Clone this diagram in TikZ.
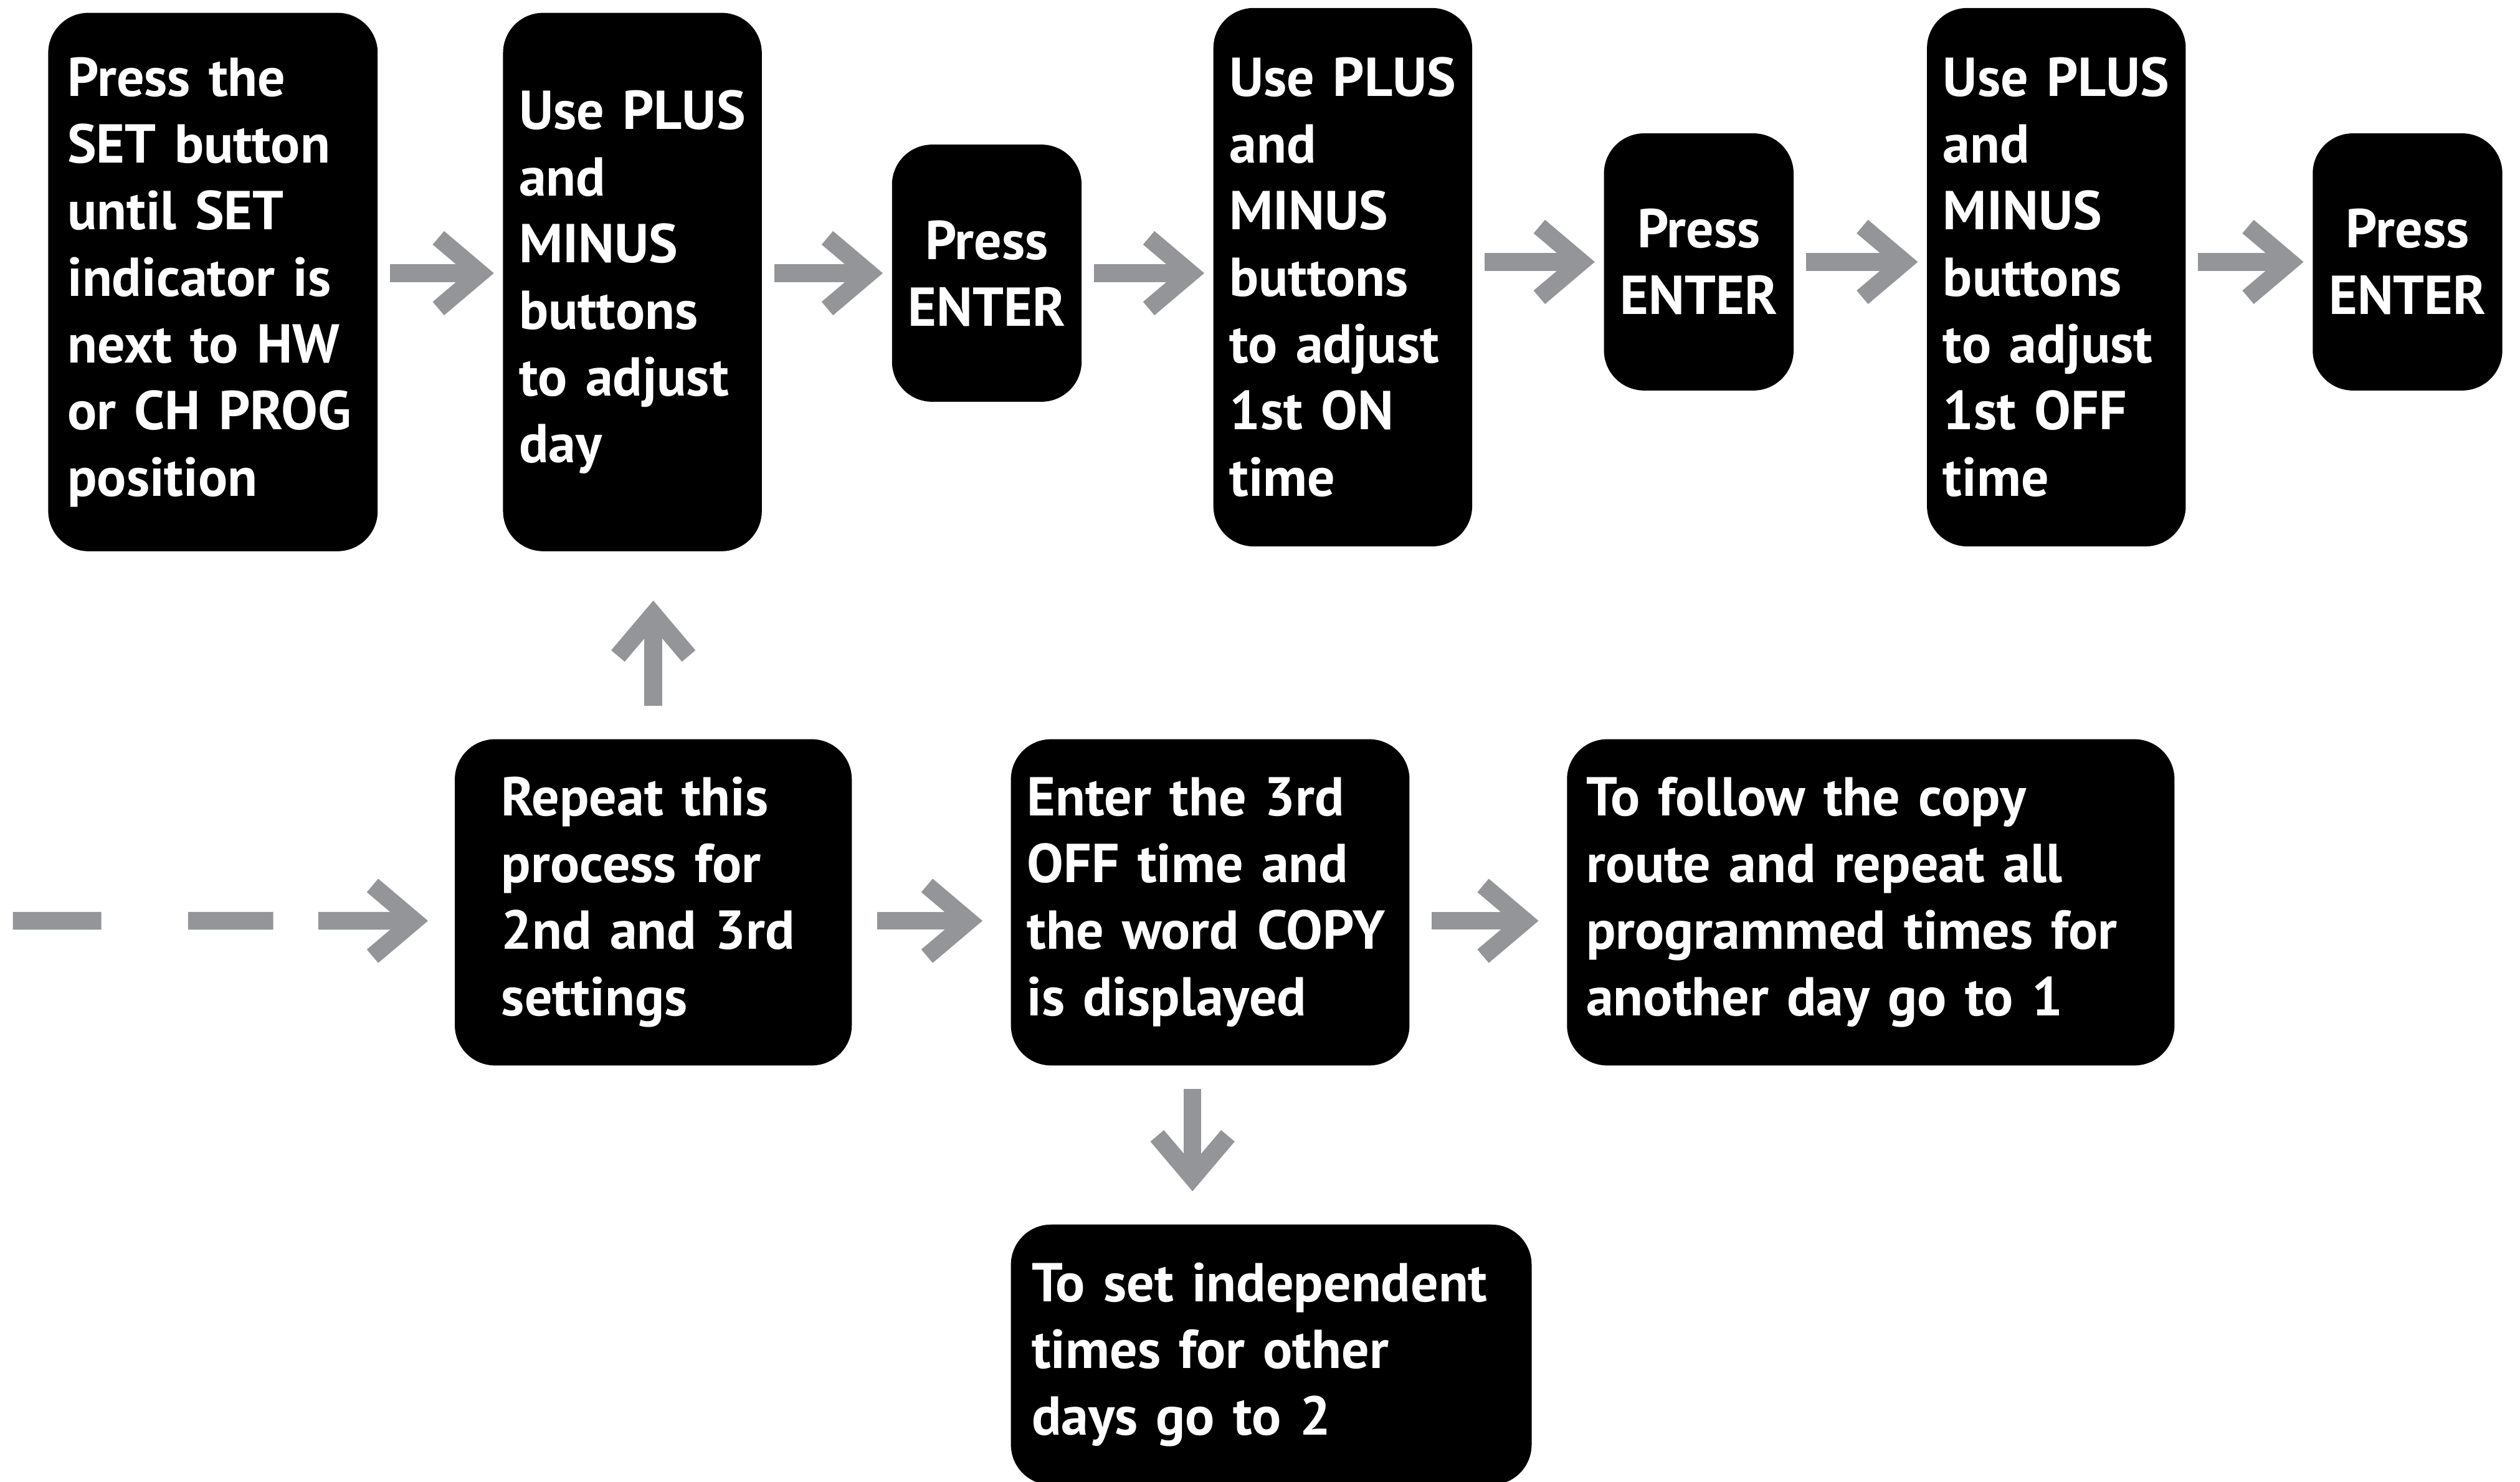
\documentclass[tikz,border=0pt]{standalone}
\usepackage{fontspec}
\setmainfont{PT Sans}
\usetikzlibrary{arrows.meta,positioning}
\definecolor{arrowgray}{HTML}{939598}
\tikzset{
  stepbox/.style={
    fill=black, text=white, rounded corners=0.25cm, align=left,
    inner sep=0pt, font=\bfseries\fontsize{9.7}{11.8}\selectfont,
  },
  tallbox/.style={stepbox, inner xsep=0.10cm, text width=1.41cm, minimum height=3.35cm},
  enterbox/.style={stepbox, align=center, minimum width=1.18cm, minimum height=1.60cm},
  widebox/.style={stepbox, minimum height=2.03cm},
  flow/.style={
    draw=arrowgray, line width=0.11cm,
    -{Straight Barb[sharp, length=0.26cm, width=0.44cm]},
    shorten <=0.07cm, shorten >=0.05cm,
  },
}

\begin{document}
\begin{tikzpicture}
\useasboundingbox (0,0) rectangle (15.68,-9.22);
\node[stepbox, inner xsep=0.12cm, text width=1.81cm, minimum height=3.35cm] (b1) at (1.325,-1.755)
  {Press the\\SET button\\until SET\\indicator is\\next to HW\\or CH PROG\\position};
\node[tallbox] (b2) at (3.935,-1.755)
  {Use PLUS\\and\\MINUS\\buttons\\to adjust\\day};
\node[enterbox] (b3) at (6.14,-1.70) {Press\\ENTER};
\node[tallbox] (b4) at (8.355,-1.725)
  {Use PLUS\\and\\MINUS\\buttons\\to adjust\\1st ON\\time};
\node[enterbox] (b5) at (10.57,-1.63) {Press\\ENTER};
\node[tallbox] (b6) at (12.795,-1.725)
  {Use PLUS\\and\\MINUS\\buttons\\to adjust\\1st OFF\\time};
\node[enterbox] (b7) at (14.98,-1.63) {Press\\ENTER};
\node[widebox, inner xsep=0.29cm, text width=1.89cm] (b8) at (4.065,-5.615)
  {Repeat this\\process for\\2nd and 3rd\\settings};
\node[widebox, inner xsep=0.10cm, text width=2.28cm] (b9) at (7.53,-5.615)
  {Enter the 3rd\\OFF time and\\the word COPY\\is displayed};
\node[widebox, inner xsep=0.12cm, text width=3.54cm] (b10) at (11.64,-5.615)
  {To follow the copy\\route and repeat all\\programmed times for\\another day go to 1};
\node[stepbox, inner xsep=0.13cm, text width=2.98cm, minimum height=1.62cm] (b11) at (7.91,-8.43)
  {To set independent\\times for other\\days go to 2};
\coordinate (lead) at (0.08,-5.73);

\draw[flow] (b1.east |- b3) -- (b2.west |- b3);
\draw[flow] (b2.east |- b3) -- (b3.west);
\draw[flow] (b3.east) -- (b4.west |- b3);
\draw[flow] (b4.east |- b5) -- (b5.west);
\draw[flow] (b5.east) -- (b6.west |- b5);
\draw[flow] (b6.east |- b5) -- (b7.west);
\draw[flow, shorten <=0.2cm, shorten >=0.3cm] (b8.north) -- (b2.south -| b8.north);
\draw[flow, shorten <=0pt, shorten >=0.16cm,
  dash pattern=on 0.55cm off 0.54cm on 0.53cm off 0.28cm on 2cm]
  (lead) -- ([yshift=-1.15mm]b8.west);
\draw[flow, shorten <=0.15cm, shorten >=0.17cm]
  ([yshift=-1.15mm]b8.east) -- ([yshift=-1.15mm]b9.west);
\draw[flow, shorten <=0.13cm, shorten >=0.17cm]
  ([yshift=-1.15mm]b9.east) -- ([yshift=-1.15mm]b10.west);
\draw[flow, shorten <=0.14cm, shorten >=0.2cm]
  ([xshift=-1.1mm]b9.south) -- ([xshift=-1.1mm]b9.south |- b11.north);
\end{tikzpicture}
\end{document}
